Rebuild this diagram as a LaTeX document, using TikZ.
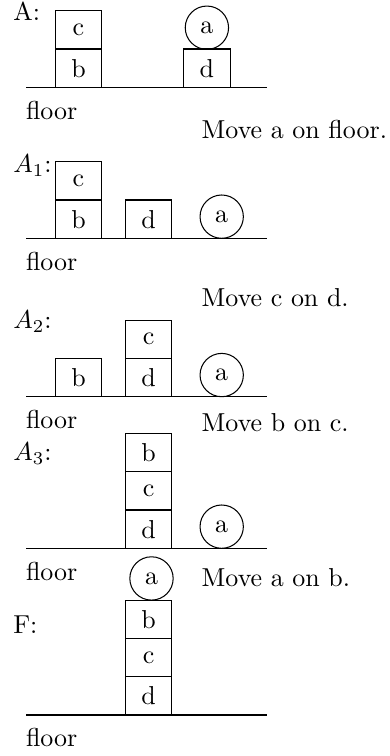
\documentclass[tikz,border=0pt]{standalone}
\begin{document}
\begin{tikzpicture}[x=0.3855pt,y=-0.3855pt,
  blk/.style={draw,minimum width=17.89pt,minimum height=14.76pt,inner sep=0pt,outer sep=0pt},
  ball/.style={draw,circle,minimum size=16.7pt,inner sep=0pt,outer sep=0pt},
  lbl/.style={anchor=base west,inner sep=0pt,outer sep=0pt},
  floorline/.style={draw}]
\useasboundingbox (0,0) rectangle (390,756);
% ---------- A ----------
\node[lbl] (tA) at (13.3,20) {A:};
\node[blk] (A-c) at (78.5,30) {c};
\node[blk] (A-b) at (78.5,68.15) {b};
\node[blk] (A-d) at (206.9,68.15) {d};
\node[ball] (A-a) at (206.9,27.7) {a};
\draw[floorline] (26,87.3) coordinate (fA1) -- (267,87.3) coordinate (fA2);
\node[lbl] (flA) at (26,119) {floor};
\node[lbl] (m1) at (201.7,138.3) {Move a on floor.};
% ---------- A1 ----------
\node[lbl] (tA1) at (13.3,172.7) {$A_1$:};
\node[blk] (A1-b) at (78.5,219.15) {b};
\node[blk] (A1-c) at (78.5,180.85) {c};
\node[blk] (A1-d) at (148.7,219.15) {d};
\node[ball] (A1-a) at (221.7,216.65) {a};
\draw[floorline] (26,238.3) coordinate (fB1) -- (267,238.3) coordinate (fB2);
\node[lbl] (flA1) at (26,270) {floor};
\node[lbl] (m2) at (201.7,306) {Move c on d.};
% ---------- A2 ----------
\node[lbl] (tA2) at (13.3,328.3) {$A_2$:};
\node[blk] (A2-b) at (78.5,377.55) {b};
\node[blk] (A2-d) at (148.7,377.55) {d};
\node[blk] (A2-c) at (148.7,339.25) {c};
\node[ball] (A2-a) at (221.7,375.05) {a};
\draw[floorline] (26,396.7) coordinate (fC1) -- (267,396.7) coordinate (fC2);
\node[lbl] (flA2) at (26,428.3) {floor};
\node[lbl] (m3) at (201.7,431.7) {Move b on c.};
% ---------- A3 ----------
\node[lbl] (tA3) at (13.3,460.7) {$A_3$:};
\node[blk] (A3-d) at (148.7,529.15) {d};
\node[blk] (A3-c) at (148.7,490.85) {c};
\node[blk] (A3-b) at (148.7,452.55) {b};
\node[ball] (A3-a) at (221.7,526.65) {a};
\draw[floorline] (26,548.3) coordinate (fD1) -- (267,548.3) coordinate (fD2);
\node[lbl] (flA3) at (26,580) {floor};
\node[lbl] (m4) at (201.7,586.7) {Move a on b.};
% ---------- F ----------
\node[lbl] (tF) at (13.3,633.3) {F:};
\node[blk] (F-d) at (148.7,695.85) {d};
\node[blk] (F-c) at (148.7,657.55) {c};
\node[blk] (F-b) at (148.7,619.25) {b};
\node[ball] (F-a) at (151.5,578.45) {a};
\draw[floorline] (26,715) coordinate (fE1) -- (267,715) coordinate (fE2);
\node[lbl] (flF) at (26,746.7) {floor};
\end{tikzpicture}
\end{document}
